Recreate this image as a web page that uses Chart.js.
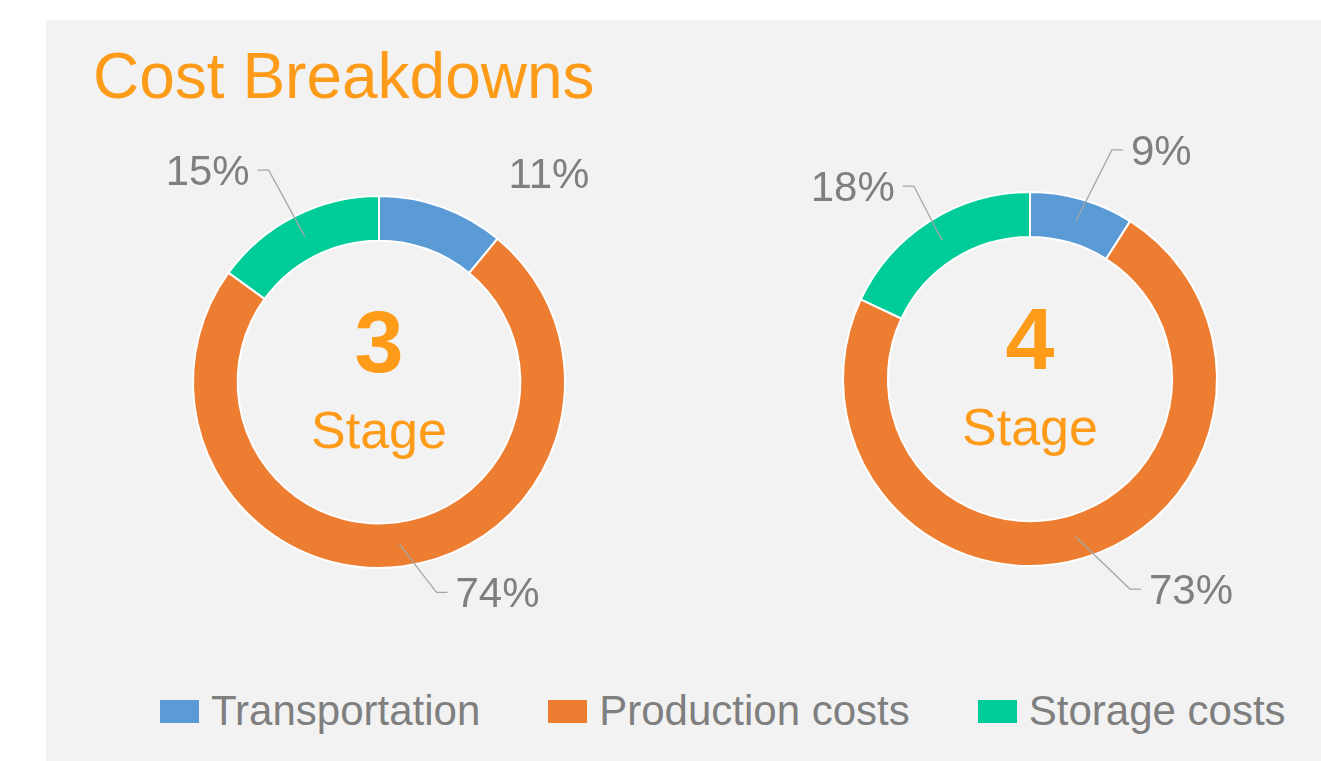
<!DOCTYPE html>
<html>
<head>
<meta charset="utf-8">
<script src="https://cdn.jsdelivr.net/npm/chart.js@4.4.1/dist/chart.umd.min.js"></script>
<style>
  html, body { margin: 0; padding: 0; background: #ffffff; overflow: hidden; }
  body { width: 1321px; height: 761px; position: relative; font-family: "Liberation Sans", Arial, sans-serif; }
  #panel { position: absolute; left: 46px; top: 20px; right: 0; bottom: 0; background: #f2f2f2; }
  #title { position: absolute; left: 93px; top: 44px; font-size: 64px; line-height: 64px; color: #fe9b18; white-space: nowrap; }
  .donut { position: absolute; width: 600px; height: 600px; }
  #leftWrap { left: 79px; top: 82px; }
  #rightWrap { left: 730px; top: 79px; }
  #legend { position: absolute; left: 160px; top: 690px; display: flex; align-items: center; height: 42px; }
  .item { display: flex; align-items: center; margin-right: 68px; }
  .box { width: 39px; height: 23px; margin-right: 12px; }
  .lbl { font-size: 42px; line-height: 42px; color: #7f7f7f; white-space: nowrap; }
</style>
</head>
<body>
<div id="panel"></div>
<div id="title">Cost Breakdowns</div>
<div class="donut" id="leftWrap"><canvas id="leftChart"></canvas></div>
<div class="donut" id="rightWrap"><canvas id="rightChart"></canvas></div>
<div id="legend"></div>

<script>
// data
const categories = ["Transportation", "Production costs", "Storage costs"];
const stage3Values = [11, 74, 15];
const stage4Values = [9, 73, 18];
const stageNames = ["3", "4"];
const colors = ["#5b9bd5", "#ed7d31", "#00cc99"];

// labels with leader lines, drawn from each arc's middle
const labelPlugin = {
    id: 'leaderLabels',
    afterDatasetsDraw(chart, args, opts) {
        const ctx = chart.ctx;
        const meta = chart.getDatasetMeta(0);
        const values = chart.data.datasets[0].data;
        const total = values.reduce((a, b) => a + b, 0);
        ctx.save();
        meta.data.forEach((arc, i) => {
            const p = arc.getProps(['x', 'y', 'startAngle', 'endAngle', 'innerRadius', 'outerRadius'], true);
            const mid = (p.startAngle + p.endAngle) / 2;
            const rm = (p.innerRadius + p.outerRadius) / 2;
            const sx = p.x + Math.cos(mid) * rm;
            const sy = p.y + Math.sin(mid) * rm;
            const off = opts.offsets[i];
            const ex = sx + off.dx;
            const ey = sy + off.dy;
            const side = off.side;
            const text = Math.round(values[i] / total * 100) + '%';
            let tx = ex;
            if (off.line) {
                ctx.strokeStyle = '#a6a6a6';
                ctx.lineWidth = 1.3;
                ctx.beginPath();
                ctx.moveTo(sx, sy);
                ctx.lineTo(ex, ey);
                ctx.lineTo(ex + side * 11, ey);
                ctx.stroke();
                tx = ex + side * 19;
            }
            ctx.fillStyle = '#7f7f7f';
            ctx.font = '42px "Liberation Sans", Arial, sans-serif';
            ctx.textAlign = side > 0 ? 'left' : 'right';
            ctx.textBaseline = 'middle';
            ctx.fillText(text, tx, ey + 3);
        });
        // centre text
        const a = meta.data[0];
        ctx.fillStyle = '#fe9b18';
        ctx.textAlign = 'center';
        ctx.textBaseline = 'middle';
        ctx.font = 'bold 88px "Liberation Sans", Arial, sans-serif';
        ctx.fillText(opts.stage, a.x, a.y - 34);
        ctx.textBaseline = 'alphabetic';
        ctx.font = '52px "Liberation Sans", Arial, sans-serif';
        ctx.fillText('Stage', a.x, a.y + 66);
        ctx.restore();
    }
};

function makeDonut(id, values, stage, pad, offsets) {
    return new Chart(document.getElementById(id), {
        type: 'doughnut',
        data: {
            labels: categories,
            datasets: [{
                data: values,
                backgroundColor: colors,
                borderColor: '#ffffff',
                borderWidth: 2,
            }],
        },
        options: {
            responsive: true,
            maintainAspectRatio: false,
            animation: false,
            cutout: '76%',
            layout: { padding: pad },
            plugins: {
                legend: { display: false },
                tooltip: { enabled: false },
                leaderLabels: { stage: stage, offsets: offsets },
            },
        },
        plugins: [labelPlugin],
    });
}

makeDonut('leftChart', stage3Values, stageNames[0], 113, [
    { dx: 74, dy: -55, side: 1, line: false },
    { dx: 37, dy: 48, side: 1, line: true },
    { dx: -36, dy: -66, side: -1, line: true },
]);
makeDonut('rightChart', stage4Values, stageNames[1], 112, [
    { dx: 36, dy: -71, side: 1, line: true },
    { dx: 54, dy: 52, side: 1, line: true },
    { dx: -28, dy: -54, side: -1, line: true },
]);

// legend
const legend = document.getElementById('legend');
categories.forEach((name, i) => {
    const item = document.createElement('div');
    item.className = 'item';
    item.innerHTML = '<div class="box" style="background:' + colors[i] + '"></div><div class="lbl">' + name + '</div>';
    legend.appendChild(item);
});
</script>
</body>
</html>
